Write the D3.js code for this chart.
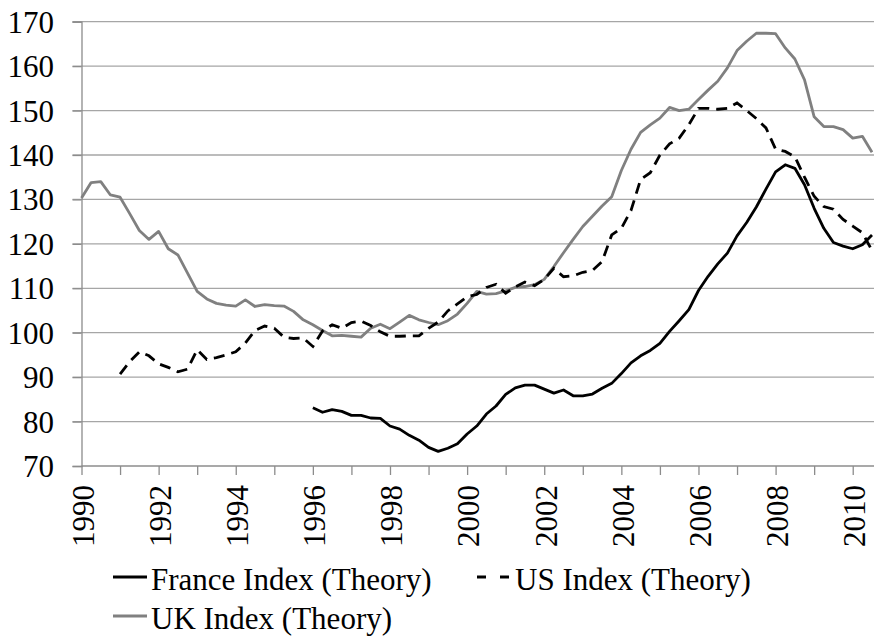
<!DOCTYPE html>
<html>
<head>
<meta charset="utf-8">
<script src="https://cdn.jsdelivr.net/npm/d3@7/dist/d3.min.js"></script>
<style>
  html, body { margin: 0; padding: 0; background: #fff; }
  svg text { font-family: "Liberation Serif", "Times New Roman", serif; fill: #000; }
</style>
</head>
<body>
<svg id="chart" width="874" height="636"></svg>
<script>
// ---- Data (quarterly index values) ----
const firstYear = 1990;          // first category on the axis (1990 Q1)
const lastYear = 2010.5;         // last category on the axis (2010 Q3)

const franceStart = 1996;
const franceValues = [
  83.1, 82.1, 82.7, 82.3,   81.4, 81.4, 80.8, 80.7,   79.0, 78.3, 76.9, 75.8,
  74.2, 73.3, 74.0, 75.0,   77.2, 79.0, 81.7, 83.5,   86.1, 87.6, 88.2, 88.2,
  87.3, 86.4, 87.1, 85.8,   85.8, 86.2, 87.5, 88.6,   90.8, 93.2, 94.8, 96.0,
  97.6, 100.3, 102.7, 105.2, 109.5, 112.7, 115.5, 117.9, 121.8, 124.8, 128.3, 132.3,
  136.2, 137.8, 137.0, 133.3, 128.0, 123.5, 120.3, 119.5, 118.9, 119.8, 122.0
];

const usStart = 1991;
const usValues = [
  90.7, 93.5, 95.7, 94.8,   93.0, 92.2, 91.2, 91.8,   96.2, 94.0, 94.4, 95.0,
  95.7, 97.7, 100.5, 101.5, 101.0, 99.0, 98.7, 98.8,  96.9, 100.4, 101.8, 101.0,
  102.3, 102.6, 101.6, 100.2, 99.2, 99.2, 99.3, 99.3,  101.0, 102.4, 104.9, 106.5,
  108.1, 108.6, 110.2, 110.9, 108.9, 110.3, 111.4, 110.6, 112.0, 114.5, 112.6, 112.8,
  113.6, 114.0, 116.0, 122.0, 123.5, 127.5, 134.5, 136.0, 140.0, 142.5, 143.8, 146.8,
  150.5, 150.5, 150.3, 150.5, 151.7, 150.0, 148.2, 146.1, 141.3, 140.8, 139.6, 135.0,
  130.7, 128.4, 127.8, 125.5, 124.0, 122.5, 118.5
];

const ukStart = 1990;
const ukValues = [
  130.3, 133.8, 134.0, 131.0, 130.5, 126.8, 123.0, 121.0, 122.8, 118.9, 117.5, 113.4,
  109.3, 107.6, 106.6, 106.2, 106.0, 107.4, 105.9, 106.3, 106.1, 106.0, 104.8, 102.9,
  101.8, 100.5, 99.3, 99.4,  99.2, 99.0, 101.0, 101.9, 100.9, 102.4, 103.9, 102.9,
  102.3, 101.8, 102.7, 104.2, 106.6, 109.3, 108.7, 108.8, 109.4, 110.2, 110.4, 110.8,
  112.0, 114.9, 118.0, 121.0, 123.9, 126.2, 128.5, 130.6, 136.5, 141.3, 145.1, 146.8,
  148.3, 150.7, 150.0, 150.3, 152.5, 154.6, 156.6, 159.6, 163.5, 165.6, 167.4, 167.4,
  167.3, 164.1, 161.6, 156.9, 148.6, 146.4, 146.4, 145.7, 143.8, 144.2, 140.6
];

const seriesNames = ["France Index (Theory)", "US Index (Theory)", "UK Index (Theory)"];
const yTicks = [70, 80, 90, 100, 110, 120, 130, 140, 150, 160, 170];
const xTickLabels = ["1990", "1992", "1994", "1996", "1998", "2000", "2002", "2004", "2006", "2008", "2010"];
const xMinorTicks = [1990, 1991, 1992, 1993, 1994, 1995, 1996, 1997, 1998, 1999, 2000,
                     2001, 2002, 2003, 2004, 2005, 2006, 2007, 2008, 2009, 2010];

// ---- Layout ----
const svg = d3.select("#chart");
const plotLeft = 81.5, plotRight = 872, plotTop = 21.7, plotBottom = 466;
const fontFam = "'Liberation Serif', 'Times New Roman', serif";

const x = d3.scaleLinear().domain([firstYear, lastYear]).range([plotLeft, plotRight]);
const y = d3.scaleLinear().domain([70, 170]).range([plotBottom, plotTop]);

function toPoints(start, values) {
  return values.map((v, i) => ({ t: start + i / 4, v }));
}

// gridlines
svg.append("g")
  .selectAll("line")
  .data(yTicks.filter(d => d !== 70))
  .join("line")
  .attr("x1", plotLeft - 9).attr("x2", 874)
  .attr("y1", d => y(d)).attr("y2", d => y(d))
  .attr("stroke", "#a6a6a6").attr("stroke-width", 1.3);

// y axis
const yAxis = svg.append("g")
  .attr("transform", `translate(${plotLeft},0)`)
  .attr("font-family", fontFam)
  .call(d3.axisLeft(y).tickValues(yTicks).tickSize(9).tickFormat(d3.format("d")));
yAxis.attr("font-family", fontFam);
yAxis.select(".domain").attr("stroke", "#8c8c8c").attr("stroke-width", 1.3);
yAxis.selectAll(".tick line").attr("stroke", "#8c8c8c").attr("stroke-width", 1.3);
yAxis.selectAll(".tick text")
  .attr("x", -27.5)
  .attr("dy", "0.34em")
  .style("font-size", "31px")
  .style("font-family", fontFam)
  .attr("fill", "#000");

// x axis (yearly ticks, labels every 2 years)
const xAxis = svg.append("g")
  .attr("transform", `translate(0,${plotBottom})`)
  .call(d3.axisBottom(x).tickValues(xMinorTicks).tickSize(9)
        .tickFormat(d => xTickLabels.includes(String(d)) ? String(d) : ""));
xAxis.attr("font-family", fontFam);
xAxis.select(".domain").attr("d", `M${plotLeft},0H874`).attr("stroke", "#8c8c8c").attr("stroke-width", 1.3);
xAxis.selectAll(".tick line").attr("stroke", "#8c8c8c").attr("stroke-width", 1.3);
xAxis.selectAll(".tick text")
  .attr("text-anchor", "end")
  .attr("y", 0).attr("dy", 0)
  .attr("transform", "translate(11.8,19) rotate(-90)")
  .style("font-size", "31px")
  .style("font-family", fontFam)
  .attr("fill", "#000");

// series
const line = d3.line().x(d => x(d.t)).y(d => y(d.v));

svg.append("path")
  .datum(toPoints(ukStart, ukValues))
  .attr("d", line).attr("fill", "none")
  .attr("stroke", "#808080").attr("stroke-width", 2.8).attr("stroke-linejoin", "round");

svg.append("path")
  .datum(toPoints(usStart, usValues))
  .attr("d", line).attr("fill", "none")
  .attr("stroke", "#000").attr("stroke-width", 2.8)
  .attr("stroke-dasharray", "11,7");

svg.append("path")
  .datum(toPoints(franceStart, franceValues))
  .attr("d", line).attr("fill", "none")
  .attr("stroke", "#000").attr("stroke-width", 2.8).attr("stroke-linejoin", "round");

// legend
const legendItems = [
  { name: seriesNames[0], color: "#000", dash: null, lx: 113, ly: 590 },
  { name: seriesNames[1], color: "#000", dash: "9,14", lx: 477, ly: 590 },
  { name: seriesNames[2], color: "#808080", dash: null, lx: 113, ly: 629 }
];
const lg = svg.append("g");
legendItems.forEach(it => {
  lg.append("line")
    .attr("x1", it.lx).attr("x2", it.lx + 34)
    .attr("y1", it.ly - 13).attr("y2", it.ly - 13)
    .attr("stroke", it.color).attr("stroke-width", 2.8)
    .attr("stroke-dasharray", it.dash);
  lg.append("text")
    .attr("x", it.lx + 38).attr("y", it.ly)
    .style("font-size", "31px")
    .style("font-family", fontFam)
    .text(it.name);
});
</script>
</body>
</html>
